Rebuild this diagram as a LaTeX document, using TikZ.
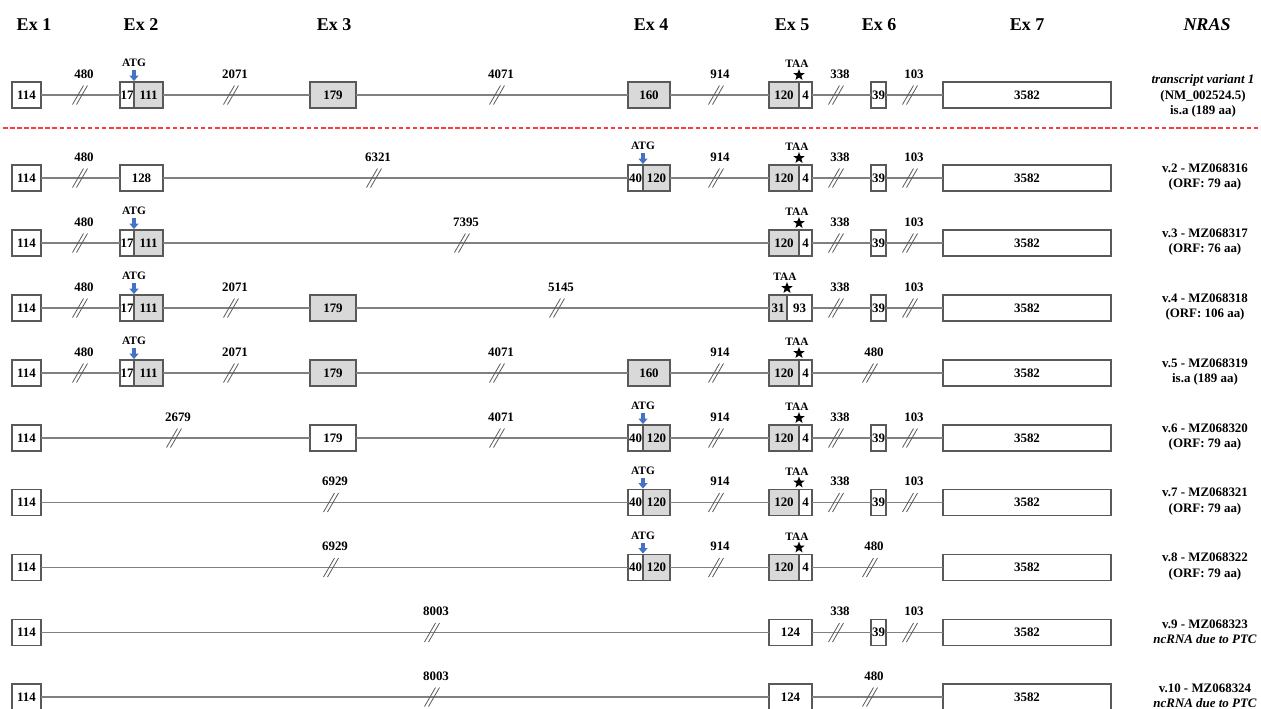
\documentclass[tikz,border=0pt]{standalone}
\usepackage{fontspec}
\setmainfont{Liberation Serif}
\usetikzlibrary{positioning,arrows.meta,shapes.geometric}

\definecolor{introngray}{HTML}{808080}
\definecolor{exonline}{HTML}{595959}
\definecolor{cdsfill}{HTML}{D9D9D9}
\definecolor{atgblue}{HTML}{4472C4}
\definecolor{sepred}{HTML}{FF3B3B}

\newcommand{\pxu}{0.75pt}
\newcommand{\numfont}{\bfseries\fontsize{9.7}{11.6}\selectfont}

% break mark on an intron: name, x, y, length
\newcommand{\brk}[4]{%
  \coordinate (#1) at (#2,#3);
  \draw[slash] ([shift={(-7.5,9.5)}]#1) -- ([shift={(3.5,-9.5)}]#1)
    ([shift={(-3.5,9.5)}]#1) -- ([shift={(7.5,-9.5)}]#1);
  \node[num] (#1-l) at ([shift={(4,-21)}]#1) {#4};}

% start codon at the west edge of a node
\newcommand{\atg}[2]{%
  \node[codon] (#1) at ([shift={(0,-19)}]#2.north west) {ATG};
  \draw[atgarrow] (#1.south) -- (#2.north west);}

% stop codon at the west edge of a node
\newcommand{\taa}[2]{%
  \node[stopstar] (#1-s) at ([shift={(0,-7)}]#2.north west) {};
  \node[codon] (#1) at ([shift={(-2,-18)}]#2.north west) {TAA};}

\begin{document}
\begin{tikzpicture}[
    x=0.75pt, y=-0.75pt,
    exon/.style={draw=exonline, line width=0.8pt, fill=white, minimum height=26*\pxu,
                 inner sep=0pt, outer sep=0pt, anchor=west, font=\numfont},
    cds/.style={exon, fill=cdsfill},
    wd/.style={minimum width=#1*\pxu},
    intron/.style={draw=introngray, line width=0.8pt},
    slash/.style={draw=introngray!70!black, line width=0.6pt},
    num/.style={font=\numfont, inner sep=0pt},
    codon/.style={font=\bfseries\fontsize{8.5}{10}\selectfont, inner sep=0pt},
    head/.style={font=\bfseries\fontsize{13.5}{16}\selectfont},
    varlabel/.style={font=\numfont, align=center},
    atgarrow/.style={draw=atgblue, line width=2.6pt, shorten <=2.4pt, shorten >=0.7pt,
                     -{Triangle[width=6.5pt,length=4pt]}},
    stopstar/.style={star, star points=5, star point ratio=2.4, fill=black,
                     minimum size=12*\pxu, inner sep=0pt},
    sep/.style={draw=sepred, line width=1.1pt, dash pattern=on 3.4pt off 1.9pt}
]
    \useasboundingbox (0,0) rectangle (1261,708);

    % Headers
    \node[head] (h1) at (34,25) {Ex 1};
    \node[head] (h2) at (141,25) {Ex 2};
    \node[head] (h3) at (334,25) {Ex 3};
    \node[head] (h4) at (651,25) {Ex 4};
    \node[head] (h5) at (792,25) {Ex 5};
    \node[head] (h6) at (879,25) {Ex 6};
    \node[head] (h7) at (1027,25) {Ex 7};
    \node[head] (hg) at (1207,25) {\itshape NRAS};

    % Row 1: reference transcript
    \node[exon, wd=29] (r1e1) at (12,95) {114};
    \node[exon, wd=14] (r1e2a) at (120,95) {17};
    \node[cds, wd=29, right=0pt of r1e2a] (r1e2b) {111};
    \node[cds, wd=46] (r1e3) at (310,95) {179};
    \node[cds, wd=42] (r1e4) at (628,95) {160};
    \node[cds, wd=30] (r1e5a) at (769,95) {120};
    \node[exon, wd=13, right=0pt of r1e5a] (r1e5b) {4};
    \node[exon, wd=15] (r1e6) at (871,95) {39};
    \node[exon, wd=168] (r1e7) at (943,95) {3582};
    \draw[intron] (r1e1) -- (r1e2a) (r1e2b) -- (r1e3) (r1e3) -- (r1e4)
        (r1e4) -- (r1e5a) (r1e5b) -- (r1e6) (r1e6) -- (r1e7);
    \brk{r1i1}{80}{95}{480} \brk{r1i2}{231}{95}{2071} \brk{r1i3}{497}{95}{4071}
    \brk{r1i4}{716}{95}{914} \brk{r1i5}{836}{95}{338} \brk{r1i6}{910}{95}{103}
    \atg{r1atg}{r1e2b} \taa{r1taa}{r1e5b}
    \node[varlabel] (r1v) at (1203,96) {\itshape transcript variant 1\\(NM\_002524.5)\\is.a (189 aa)};

    \draw[sep] (3,128) -- (1261,128);

    % Row 2
    \node[exon, wd=29] (r2e1) at (12,178) {114};
    \node[exon, wd=43] (r2e2) at (120,178) {128};
    \node[exon, wd=15] (r2e4a) at (628,178) {40};
    \node[cds, wd=27, right=0pt of r2e4a] (r2e4b) {120};
    \node[cds, wd=30] (r2e5a) at (769,178) {120};
    \node[exon, wd=13, right=0pt of r2e5a] (r2e5b) {4};
    \node[exon, wd=15] (r2e6) at (871,178) {39};
    \node[exon, wd=168] (r2e7) at (943,178) {3582};
    \draw[intron] (r2e1) -- (r2e2) (r2e2) -- (r2e4a) (r2e4b) -- (r2e5a)
        (r2e5b) -- (r2e6) (r2e6) -- (r2e7);
    \brk{r2i1}{80}{178}{480} \brk{r2i2}{374}{178}{6321} \brk{r2i3}{716}{178}{914}
    \brk{r2i4}{836}{178}{338} \brk{r2i5}{910}{178}{103}
    \atg{r2atg}{r2e4b} \taa{r2taa}{r2e5b}
    \node[varlabel] (r2v) at (1205,177) {v.2 - MZ068316\\(ORF: 79 aa)};

    % Row 3
    \node[exon, wd=29] (r3e1) at (12,243) {114};
    \node[exon, wd=14] (r3e2a) at (120,243) {17};
    \node[cds, wd=29, right=0pt of r3e2a] (r3e2b) {111};
    \node[cds, wd=30] (r3e5a) at (769,243) {120};
    \node[exon, wd=13, right=0pt of r3e5a] (r3e5b) {4};
    \node[exon, wd=15] (r3e6) at (871,243) {39};
    \node[exon, wd=168] (r3e7) at (943,243) {3582};
    \draw[intron] (r3e1) -- (r3e2a) (r3e2b) -- (r3e5a) (r3e5b) -- (r3e6) (r3e6) -- (r3e7);
    \brk{r3i1}{80}{243}{480} \brk{r3i2}{462}{243}{7395}
    \brk{r3i3}{836}{243}{338} \brk{r3i4}{910}{243}{103}
    \atg{r3atg}{r3e2b} \taa{r3taa}{r3e5b}
    \node[varlabel] (r3v) at (1205,242) {v.3 - MZ068317\\(ORF: 76 aa)};

    % Row 4
    \node[exon, wd=29] (r4e1) at (12,308) {114};
    \node[exon, wd=14] (r4e2a) at (120,308) {17};
    \node[cds, wd=29, right=0pt of r4e2a] (r4e2b) {111};
    \node[cds, wd=46] (r4e3) at (310,308) {179};
    \node[cds, wd=18] (r4e5a) at (769,308) {31};
    \node[exon, wd=25, right=0pt of r4e5a] (r4e5b) {93};
    \node[exon, wd=15] (r4e6) at (871,308) {39};
    \node[exon, wd=168] (r4e7) at (943,308) {3582};
    \draw[intron] (r4e1) -- (r4e2a) (r4e2b) -- (r4e3) (r4e3) -- (r4e5a)
        (r4e5b) -- (r4e6) (r4e6) -- (r4e7);
    \brk{r4i1}{80}{308}{480} \brk{r4i2}{231}{308}{2071} \brk{r4i3}{557}{308}{5145}
    \brk{r4i4}{836}{308}{338} \brk{r4i5}{910}{308}{103}
    \atg{r4atg}{r4e2b} \taa{r4taa}{r4e5b}
    \node[varlabel] (r4v) at (1205,307) {v.4 - MZ068318\\(ORF: 106 aa)};

    % Row 5
    \node[exon, wd=29] (r5e1) at (12,373) {114};
    \node[exon, wd=14] (r5e2a) at (120,373) {17};
    \node[cds, wd=29, right=0pt of r5e2a] (r5e2b) {111};
    \node[cds, wd=46] (r5e3) at (310,373) {179};
    \node[cds, wd=42] (r5e4) at (628,373) {160};
    \node[cds, wd=30] (r5e5a) at (769,373) {120};
    \node[exon, wd=13, right=0pt of r5e5a] (r5e5b) {4};
    \node[exon, wd=168] (r5e7) at (943,373) {3582};
    \draw[intron] (r5e1) -- (r5e2a) (r5e2b) -- (r5e3) (r5e3) -- (r5e4)
        (r5e4) -- (r5e5a) (r5e5b) -- (r5e7);
    \brk{r5i1}{80}{373}{480} \brk{r5i2}{231}{373}{2071} \brk{r5i3}{497}{373}{4071}
    \brk{r5i4}{716}{373}{914} \brk{r5i5}{870}{373}{480}
    \atg{r5atg}{r5e2b} \taa{r5taa}{r5e5b}
    \node[varlabel] (r5v) at (1205,372) {v.5 - MZ068319\\is.a (189 aa)};

    % Row 6
    \node[exon, wd=29] (r6e1) at (12,438) {114};
    \node[exon, wd=46] (r6e3) at (310,438) {179};
    \node[exon, wd=15] (r6e4a) at (628,438) {40};
    \node[cds, wd=27, right=0pt of r6e4a] (r6e4b) {120};
    \node[cds, wd=30] (r6e5a) at (769,438) {120};
    \node[exon, wd=13, right=0pt of r6e5a] (r6e5b) {4};
    \node[exon, wd=15] (r6e6) at (871,438) {39};
    \node[exon, wd=168] (r6e7) at (943,438) {3582};
    \draw[intron] (r6e1) -- (r6e3) (r6e3) -- (r6e4a) (r6e4b) -- (r6e5a)
        (r6e5b) -- (r6e6) (r6e6) -- (r6e7);
    \brk{r6i1}{174}{438}{2679} \brk{r6i2}{497}{438}{4071} \brk{r6i3}{716}{438}{914}
    \brk{r6i4}{836}{438}{338} \brk{r6i5}{910}{438}{103}
    \atg{r6atg}{r6e4b} \taa{r6taa}{r6e5b}
    \node[varlabel] (r6v) at (1205,437) {v.6 - MZ068320\\(ORF: 79 aa)};

    % Row 7
    \node[exon, wd=29] (r7e1) at (12,502.5) {114};
    \node[exon, wd=15] (r7e4a) at (628,502.5) {40};
    \node[cds, wd=27, right=0pt of r7e4a] (r7e4b) {120};
    \node[cds, wd=30] (r7e5a) at (769,502.5) {120};
    \node[exon, wd=13, right=0pt of r7e5a] (r7e5b) {4};
    \node[exon, wd=15] (r7e6) at (871,502.5) {39};
    \node[exon, wd=168] (r7e7) at (943,502.5) {3582};
    \draw[intron] (r7e1) -- (r7e4a) (r7e4b) -- (r7e5a) (r7e5b) -- (r7e6) (r7e6) -- (r7e7);
    \brk{r7i1}{331}{502.5}{6929} \brk{r7i2}{716}{502.5}{914}
    \brk{r7i3}{836}{502.5}{338} \brk{r7i4}{910}{502.5}{103}
    \atg{r7atg}{r7e4b} \taa{r7taa}{r7e5b}
    \node[varlabel] (r7v) at (1205,501.5) {v.7 - MZ068321\\(ORF: 79 aa)};

    % Row 8
    \node[exon, wd=29] (r8e1) at (12,567.5) {114};
    \node[exon, wd=15] (r8e4a) at (628,567.5) {40};
    \node[cds, wd=27, right=0pt of r8e4a] (r8e4b) {120};
    \node[cds, wd=30] (r8e5a) at (769,567.5) {120};
    \node[exon, wd=13, right=0pt of r8e5a] (r8e5b) {4};
    \node[exon, wd=168] (r8e7) at (943,567.5) {3582};
    \draw[intron] (r8e1) -- (r8e4a) (r8e4b) -- (r8e5a) (r8e5b) -- (r8e7);
    \brk{r8i1}{331}{567.5}{6929} \brk{r8i2}{716}{567.5}{914} \brk{r8i3}{870}{567.5}{480}
    \atg{r8atg}{r8e4b} \taa{r8taa}{r8e5b}
    \node[varlabel] (r8v) at (1205,566.5) {v.8 - MZ068322\\(ORF: 79 aa)};

    % Row 9
    \node[exon, wd=29] (r9e1) at (12,632.5) {114};
    \node[exon, wd=43] (r9e5) at (769,632.5) {124};
    \node[exon, wd=15] (r9e6) at (871,632.5) {39};
    \node[exon, wd=168] (r9e7) at (943,632.5) {3582};
    \draw[intron] (r9e1) -- (r9e5) (r9e5) -- (r9e6) (r9e6) -- (r9e7);
    \brk{r9i1}{432}{632.5}{8003} \brk{r9i2}{836}{632.5}{338} \brk{r9i3}{910}{632.5}{103}
    \node[varlabel] (r9v) at (1205,631.5) {v.9 - MZ068323\\\itshape ncRNA due to PTC};

    % Row 10
    \node[exon, wd=29] (r10e1) at (12,697) {114};
    \node[exon, wd=43] (r10e5) at (769,697) {124};
    \node[exon, wd=168] (r10e7) at (943,697) {3582};
    \draw[intron] (r10e1) -- (r10e5) (r10e5) -- (r10e7);
    \brk{r10i1}{432}{697}{8003} \brk{r10i2}{870}{697}{480}
    \node[varlabel] (r10v) at (1205,696) {v.10 - MZ068324\\\itshape ncRNA due to PTC};
\end{tikzpicture}
\end{document}
